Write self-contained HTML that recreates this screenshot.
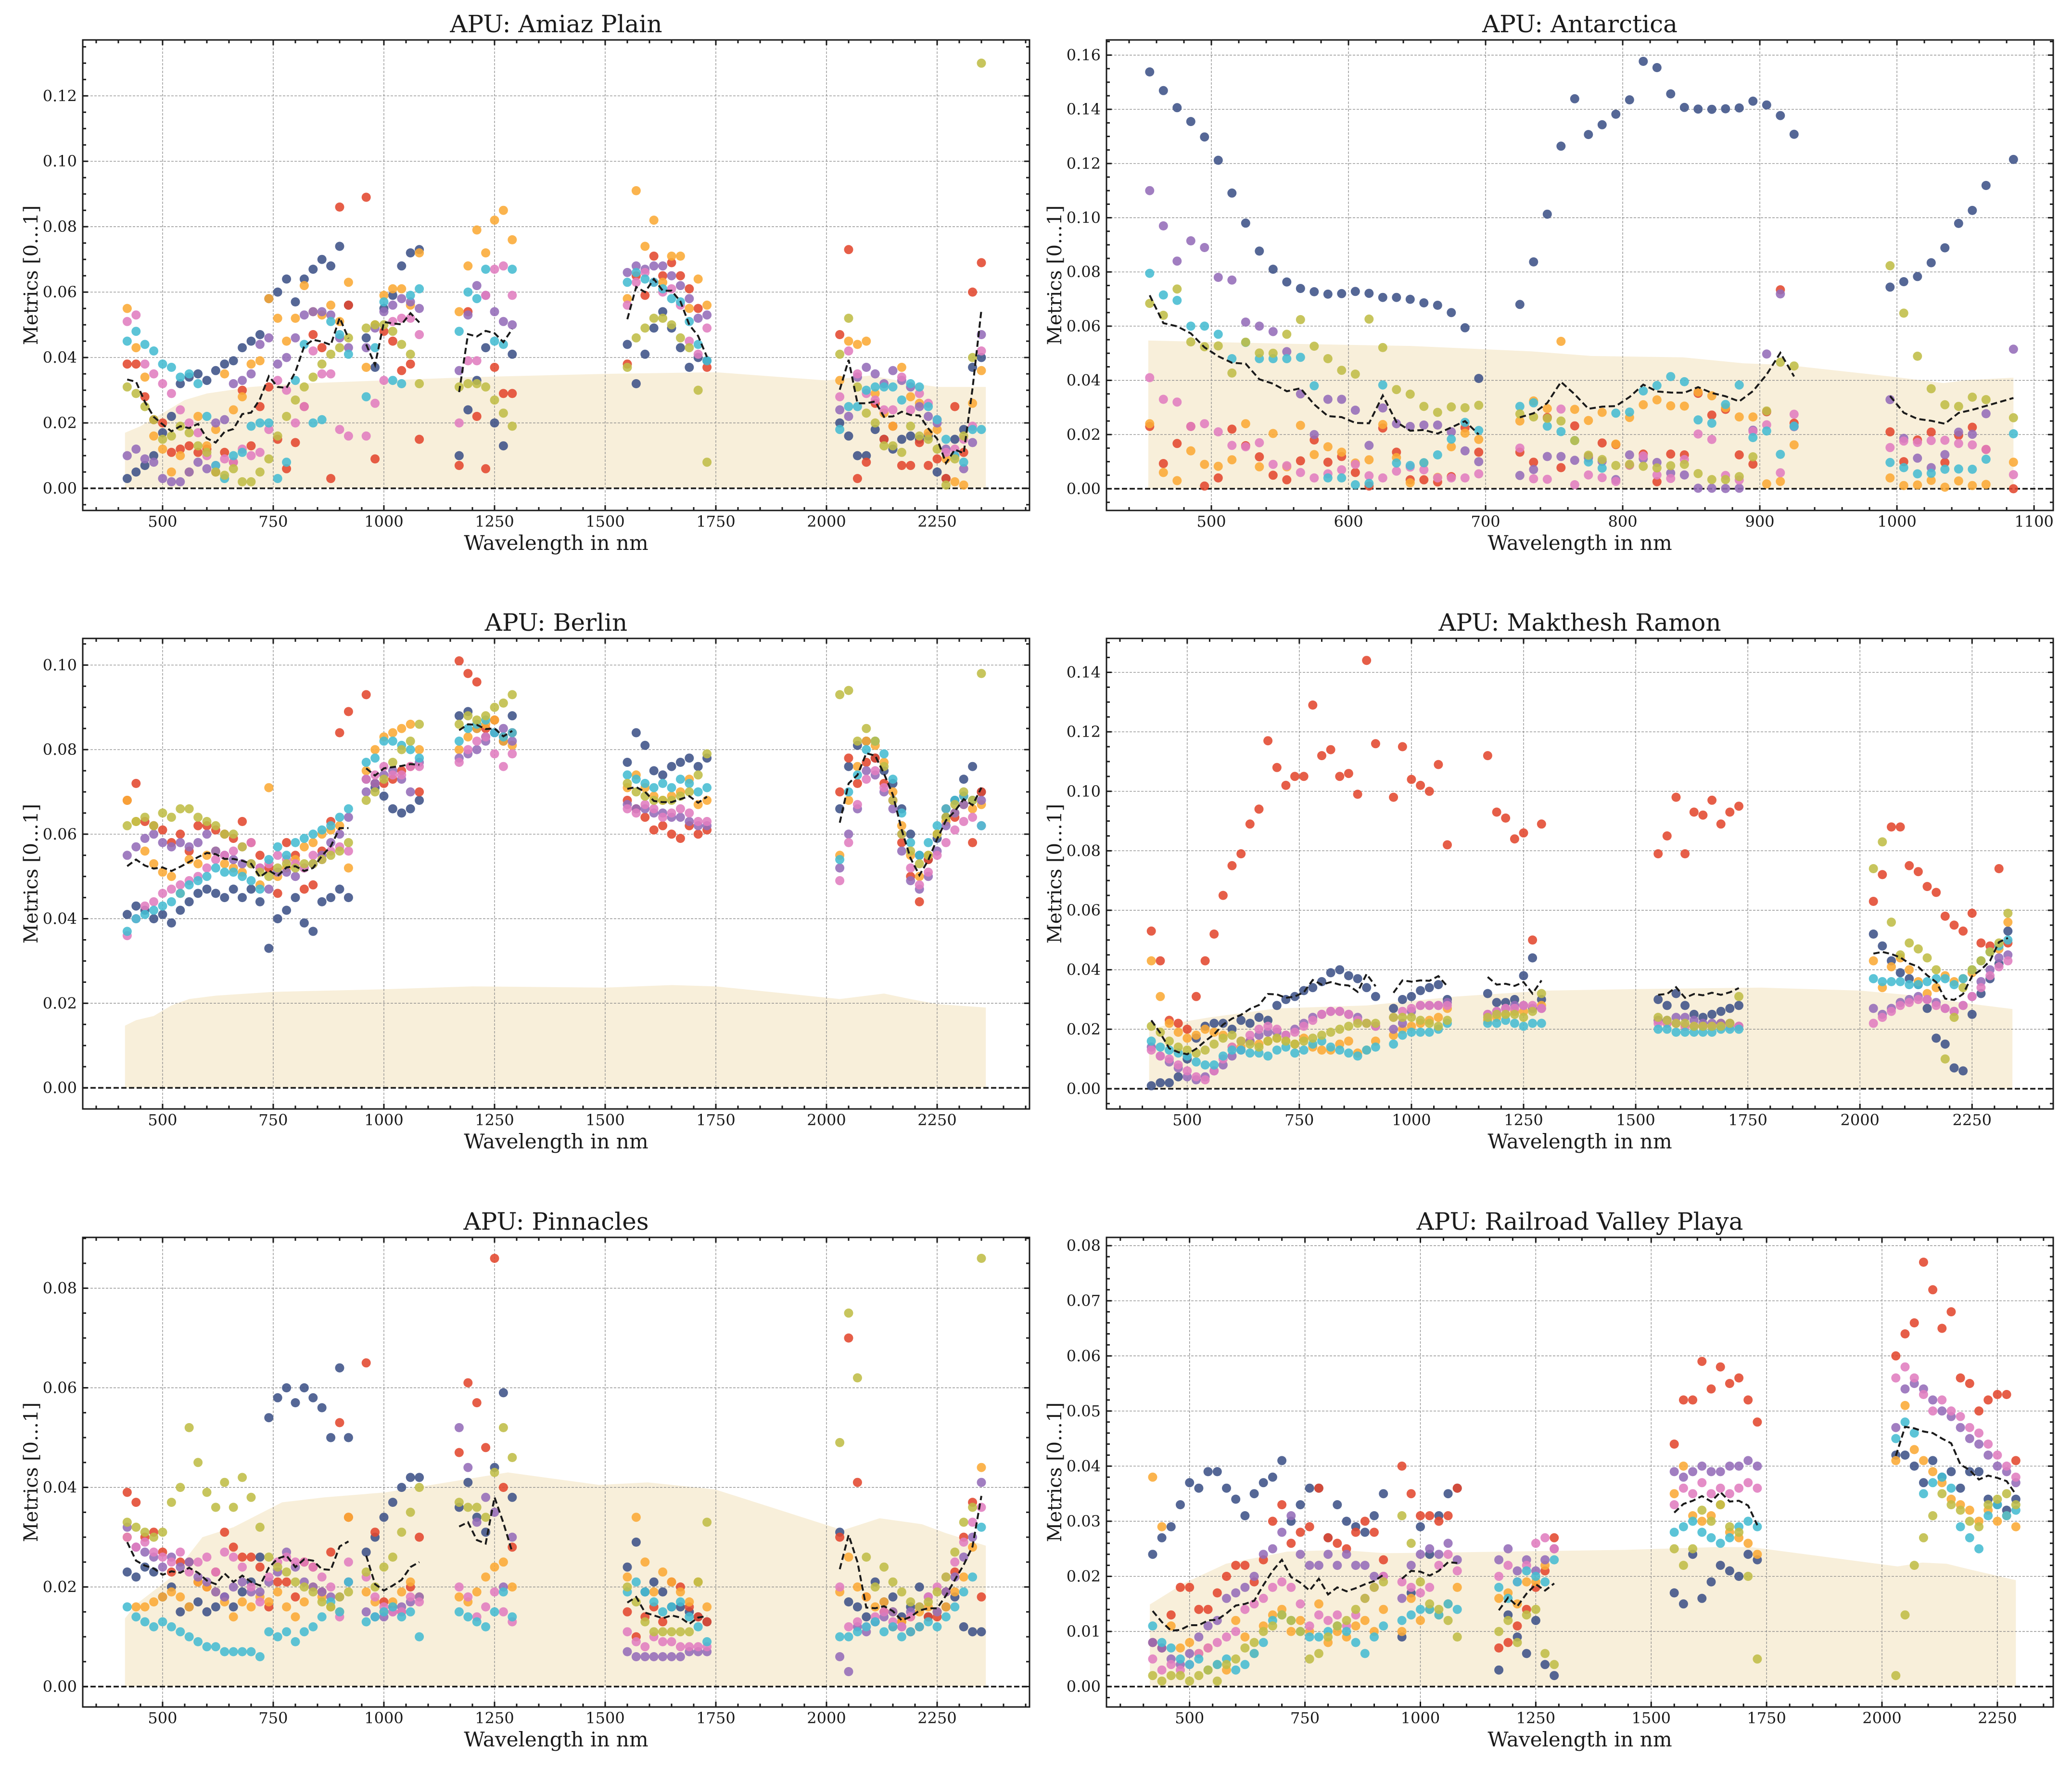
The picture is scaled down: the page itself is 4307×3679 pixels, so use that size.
<!DOCTYPE html>
<html><head><meta charset="utf-8"><title>APU metrics</title>
<style>
html,body{margin:0;padding:0;background:#fff;}
svg{display:block;}
text{font-family:"DejaVu Serif","Liberation Serif",serif;fill:#1a1a1a;}
</style></head>
<body>
<svg id="chart" xmlns="http://www.w3.org/2000/svg" width="4307" height="3679" viewBox="0 0 4307 3679"></svg>
<script>
// ---------------- DATA ----------------
const seriesColors = ['#3d5288','#e2482f','#fbaa35','#946cb8','#e07dbf','#45bcd2','#bfbd47'];
const seriesNames = ['navy','red','orange','purple','pink','cyan','olive'];
const stdXTicks = [500,750,1000,1250,1500,1750,2000,2250];
const antXTicks = [500,600,700,800,900,1000,1100];

// Amiaz Plain
const amiazWl = [420,440,460,480,500,520,540,560,580,600,620,640,660,680,700,720,740,760,780,800,820,840,860,880,900,920, 960,980,1000,1020,1040,1060,1080, 1170,1190,1210,1230,1250,1270,1290, 1550,1570,1590,1610,1630,1650,1670,1690,1710,1730, 2030,2050,2070,2090,2110,2130,2150,2170,2190,2210,2230,2250,2270,2290,2310,2330,2350];
const amiazNavy = [.003,.005,.007,.010,.017,.022,.032,.034,.035,.033,.036,.038,.039,.043,.045,.047,.058,.060,.064,.057,.064,.067,.070,.068,.074,.056, .046,.037,.055,.059,.068,.072,.073, .010,.024,.033,.043,.020,.013,.041, .044,.032,.041,.049,.054,.049,.043,.037,.040,.039, .020,.016,.010,.010,.018,.015,.012,.015,.016,.015,.016,.005,.003,.015,.018,.037,.040];
const amiazRed = [.038,.038,.028,.021,.020,.011,.012,.013,.011,.012,.005,.011,.008,.030,.013,.025,.031,.015,.006,.014,.025,.047,.043,.003,.086,.056, .089,.009,.048,.045,.036,.038,.015, .007,.054,.022,.006,.037,.029,.029, .038,.065,.059,.071,.065,.069,.065,.061,.055,.037, .047,.073,.003,.008,.026,.015,.019,.007,.007,.014,.007,.009,.003,.025,.011,.060,.069];
const amiazOrange = [.055,.043,.034,.016,.012,.005,.010,.005,.022,.013,.018,.035,.024,.028,.038,.039,.058,.052,.045,.052,.062,.054,.053,.056,.051,.063, .037,.050,.059,.061,.061,.056,.072, .054,.068,.079,.072,.082,.085,.076, .058,.091,.074,.082,.063,.071,.071,.055,.064,.056, .033,.045,.044,.045,.029,.023,.019,.037,.028,.026,.017,.018,.009,.002,.001,.026,.036];
const amiazPurple = [.010,.012,.009,.008,.003,.002,.002,.005,.008,.006,.020,.021,.032,.033,.035,.044,.046,.038,.040,.046,.053,.054,.054,.053,.046,.043, .043,.049,.054,.056,.058,.057,.055, .036,.053,.062,.059,.054,.051,.050, .066,.068,.067,.068,.068,.065,.062,.058,.052,.053, .024,.022,.034,.037,.035,.032,.036,.033,.031,.025,.022,.020,.012,.010,.006,.014,.047];
const amiazPink = [.051,.053,.038,.035,.032,.029,.024,.020,.017,.010,.007,.009,.008,.012,.010,.011,.018,.033,.030,.020,.025,.042,.035,.035,.018,.016, .016,.026,.033,.051,.052,.052,.047, .020,.039,.039,.059,.067,.068,.059, .056,.063,.066,.063,.060,.061,.056,.045,.041,.049, .028,.042,.035,.029,.027,.024,.024,.034,.024,.029,.026,.021,.011,.012,.015,.019,.042];
const amiazCyan = [.045,.048,.044,.042,.038,.037,.034,.035,.032,.022,.007,.003,.010,.011,.019,.020,.020,.003,.008,.033,.044,.020,.021,.051,.047,.041, .028,.043,.057,.033,.032,.059,.061, .048,.060,.058,.067,.045,.044,.067, .063,.066,.064,.063,.061,.058,.057,.051,.044,.039, .018,.025,.025,.030,.031,.031,.031,.027,.032,.031,.025,.021,.015,.010,.008,.018,.018];
const amiazOlive = [.031,.029,.025,.021,.015,.016,.019,.017,.013,.011,.005,.004,.006,.002,.002,.005,.009,.016,.022,.027,.031,.034,.038,.041,.043,.046, .049,.050,.050,.048,.044,.041,.032, .031,.032,.032,.031,.027,.023,.019, .037,.046,.049,.052,.052,.050,.046,.043,.030,.008, .041,.052,.031,.023,.020,.013,.013,.011,.019,.016,.015,.012,.001,.009,.016,.040,.130];
const amiazFillWl = [415,450,500,550,600,700,800,1000,1200,1500,1750,2000,2100,2200,2250,2360];
const amiazFillTop = [.017,.019,.023,.027,.029,.031,.032,.033,.034,.035,.0355,.033,.0345,.032,.031,.031];
const amiazYTicks = [0,.02,.04,.06,.08,.10,.12];

// Antarctica
const antWl = [455,465,475,485,495,505,515,525,535,545,555,565,575,585,595,605,615,625,635,645,655,665,675,685,695, 725,735,745,755,765,775,785,795,805,815,825,835,845,855,865,875,885,895,905,915,925, 995,1005,1015,1025,1035,1045,1055,1065,1085];
const antNavy = [.1538,.1469,.1406,.1355,.1298,.1212,.1091,.0980,.0877,.0810,.0763,.0739,.0727,.0718,.0720,.0728,.0721,.0706,.0706,.0699,.0686,.0677,.0650,.0594,.0407, .0680,.0837,.1013,.1264,.1439,.1307,.1343,.1382,.1435,.1577,.1554,.1457,.1407,.1401,.1400,.1402,.1405,.1430,.1416,.1377,.1308, .0744,.0764,.0783,.0834,.0889,.0979,.1027,.1119,.1215];
const antRed = [.023,.0093,.0167,.023,.001,.004,.022,.0159,.0118,.005,.0033,.0103,.018,.0098,.0119,.006,.001,.0224,.0135,.0033,.0033,.0025,.0045,.0225,.0135, .0135,.0098,.0263,.0078,.0232,.0119,.0169,.0163,.0087,.0128,.0026,.0128,.0125,.0352,.0272,.0293,.0125,.0091,.0284,.0734,.0242, .021,.010,.018,.0209,.0097,.0197,.0227,.0145,.0];
const antOrange = [.024,.006,.003,.014,.009,.0083,.0107,.024,.0081,.0204,.0081,.0234,.0126,.0155,.0135,.0095,.0107,.0237,.0115,.0022,.0095,.0042,.0155,.0205,.0182, .025,.0324,.0296,.0544,.0293,.0252,.0282,.0165,.0263,.031,.0328,.0306,.0305,.0357,.0343,.0299,.0265,.0265,.0018,.0027,.0162, .004,.0012,.0014,.0031,.0006,.0029,.0012,.0016,.0098];
const antPurple = [.110,.097,.084,.0915,.089,.078,.077,.0615,.060,.058,.0506,.035,.020,.033,.033,.029,.016,.0298,.024,.023,.0235,.0235,.021,.014,.010, .0049,.0071,.0119,.0119,.0105,.0114,.0101,.0034,.0125,.0111,.0097,.0058,.0051,.0002,.0002,.0001,.0002,.0216,.0497,.0719,.0229, .0329,.0186,.0113,.0078,.0126,.0209,.0201,.0277,.0515];
const antPink = [.041,.033,.032,.023,.024,.021,.016,.0155,.017,.009,.0085,.006,.004,.0055,.007,.009,.0048,.004,.0065,.008,.007,.004,.004,.004,.0055, .015,.0037,.0035,.0294,.0015,.0051,.0041,.0027,.0087,.0121,.0051,.0038,.0108,.0202,.0182,.0049,.0032,.0212,.0236,.0059,.0275, .0152,.0176,.0171,.0178,.0179,.0167,.0162,.0145,.0052];
const antCyan = [.0795,.0715,.0695,.060,.060,.057,.048,.054,.048,.048,.048,.0485,.038,.004,.004,.0015,.002,.0383,.0095,.0086,.0096,.0125,.0183,.0245,.0215, .0304,.0317,.0231,.0211,.0178,.0099,.0076,.0279,.0283,.0361,.0381,.0414,.0395,.0254,.0242,.0311,.0383,.0189,.0213,.0127,.0231, .0097,.0078,.0055,.0057,.0072,.0073,.0072,.0109,.0203];
const antOlive = [.0684,.064,.0737,.0542,.0524,.0527,.0427,.0541,.0501,.050,.057,.0624,.0526,.048,.0437,.0423,.0626,.0521,.0366,.0349,.0304,.0282,.0302,.0299,.0308, .0276,.0265,.026,.025,.0178,.0124,.0108,.0086,.009,.0083,.0077,.0085,.009,.0056,.0034,.0034,.0045,.0118,.0287,.0467,.0453, .0823,.0648,.0489,.0369,.031,.0304,.0338,.0329,.0262];
const antFillWl = [454,556,645,733,777,844,888,919,999,1034,1052,1085];
const antFillTop = [.0547,.0535,.0527,.0507,.049,.0485,.0463,.0457,.0412,.039,.0401,.041];
const antYTicks = [0,.02,.04,.06,.08,.10,.12,.14,.16];

// Berlin
const berlinWl = amiazWl.slice();
const berlinNavy = [.041,.043,.042,.040,.041,.039,.042,.044,.046,.047,.046,.045,.047,.045,.047,.044,.033,.040,.042,.045,.039,.037,.044,.045,.047,.045, .073,.071,.069,.066,.065,.066,.068, .088,.089,.085,.083,.084,.082,.088, .077,.084,.081,.075,.074,.076,.077,.078,.076,.078, .066,.076,.081,.082,.078,.075,.072,.066,.060,.055,.054,.059,.064,.068,.073,.076,.070];
const berlinRed = [.068,.072,.063,.062,.061,.058,.060,.056,.062,.062,.061,.060,.059,.063,.058,.055,.052,.046,.058,.055,.047,.048,.056,.063,.084,.089, .093,.072,.072,.073,.075,.076,.070, .101,.098,.096,.085,.087,.083,.084, .068,.066,.064,.061,.062,.060,.059,.062,.060,.061, .070,.078,.072,.077,.078,.072,.068,.058,.050,.044,.054,.060,.066,.064,.069,.058,.070];
const berlinOrange = [.068,.063,.056,.053,.051,.050,.046,.054,.053,.055,.056,.053,.052,.051,.053,.048,.071,.050,.052,.054,.057,.058,.060,.061,.062,.052, .075,.080,.083,.084,.085,.086,.080, .080,.083,.085,.086,.087,.082,.081, .071,.074,.071,.069,.068,.069,.070,.073,.067,.068, .055,.068,.076,.082,.081,.077,.070,.062,.055,.050,.055,.060,.063,.065,.067,.066,.067];
const berlinPurple = [.055,.057,.059,.060,.058,.057,.058,.057,.058,.060,.056,.055,.054,.053,.053,.052,.047,.051,.051,.050,.052,.053,.055,.058,.060,.064, .070,.072,.074,.075,.073,.070,.077, .078,.079,.080,.082,.084,.085,.082, .067,.066,.066,.065,.065,.064,.064,.063,.062,.062, .052,.060,.066,.075,.074,.070,.066,.056,.049,.047,.050,.056,.062,.065,.067,.068,.068];
const berlinPink = [.036,.040,.043,.044,.046,.047,.048,.049,.050,.052,.054,.055,.056,.057,.058,.052,.053,.055,.054,.053,.052,.055,.054,.056,.057,.056, .073,.074,.076,.074,.074,.076,.076, .077,.080,.082,.083,.079,.076,.079, .066,.065,.067,.066,.064,.065,.066,.065,.063,.063, .049,.058,.067,.073,.075,.071,.068,.060,.052,.048,.051,.055,.058,.061,.063,.064,.062];
const berlinCyan = [.037,.040,.041,.042,.043,.044,.046,.048,.049,.050,.052,.051,.051,.050,.049,.047,.054,.057,.055,.058,.059,.060,.061,.062,.064,.066, .077,.078,.082,.082,.081,.080,.078, .082,.085,.086,.087,.084,.083,.084, .074,.073,.072,.071,.072,.071,.073,.072,.070,.071, .054,.070,.074,.080,.082,.079,.073,.065,.058,.055,.058,.062,.066,.068,.069,.068,.062];
const berlinOlive = [.062,.063,.064,.062,.065,.064,.066,.066,.064,.063,.062,.060,.060,.057,.053,.051,.050,.052,.053,.052,.053,.053,.054,.055,.056,.058, .068,.070,.073,.077,.080,.082,.086, .086,.088,.087,.088,.090,.091,.093, .072,.070,.069,.068,.068,.068,.069,.070,.074,.079, .093,.094,.082,.085,.082,.076,.068,.060,.056,.053,.055,.060,.064,.067,.070,.068,.098];
const berlinFillWl = [415,440,480,520,560,620,750,1000,1200,1500,1650,1750,2030,2130,2180,2250,2360];
const berlinFillTop = [.0147,.016,.017,.0195,.021,.0218,.0227,.0233,.024,.0237,.0243,.024,.021,.0223,.0212,.0198,.019];
const berlinYTicks = [0,.02,.04,.06,.08,.10];

// Makhtesh Ramon
const ramonWl = [420,440,460,480,500,520,540,560,580,600,620,640,660,680,700,720,740,760,780,800,820,840,860,880,900,920, 960,980,1000,1020,1040,1060,1080, 1170,1190,1210,1230,1250,1270,1290, 1550,1570,1590,1610,1630,1650,1670,1690,1710,1730, 2030,2050,2070,2090,2110,2130,2150,2170,2190,2210,2230,2250,2270,2290,2310,2330];
const ramonNavy = [.001,.002,.002,.004,.010,.017,.021,.022,.022,.020,.023,.022,.024,.023,.028,.030,.031,.033,.034,.036,.039,.040,.038,.037,.034,.031, .027,.030,.031,.033,.034,.035,.030, .032,.029,.029,.030,.038,.044,.030, .030,.028,.032,.028,.025,.024,.025,.026,.027,.028, .052,.048,.043,.039,.037,.035,.027,.017,.015,.007,.006,.025,.032,.037,.042,.053];
const ramonRed = [.053,.043,.023,.022,.020,.031,.043,.052,.065,.075,.079,.089,.094,.117,.108,.102,.105,.105,.129,.112,.114,.105,.106,.099,.144,.116, .098,.115,.104,.102,.100,.109,.082, .112,.093,.091,.084,.086,.050,.089, .079,.085,.098,.079,.093,.092,.097,.089,.093,.095, .063,.072,.088,.088,.075,.073,.068,.066,.058,.055,.053,.059,.049,.048,.074,.049];
const ramonOrange = [.043,.031,.022,.019,.017,.018,.020,.019,.018,.014,.014,.016,.015,.016,.017,.016,.015,.017,.014,.013,.013,.015,.016,.012,.013,.016, .018,.020,.021,.022,.023,.024,.027, .023,.024,.025,.026,.026,.027,.028, .023,.022,.022,.021,.021,.021,.021,.022,.022,.021, .043,.034,.041,.044,.040,.036,.032,.034,.038,.036,.037,.039,.043,.046,.047,.056];
const ramonPurple = [.014,.011,.009,.007,.004,.003,.004,.006,.008,.011,.013,.016,.018,.019,.019,.018,.020,.022,.024,.025,.026,.026,.025,.024,.022,.021, .020,.022,.026,.028,.028,.028,.029, .025,.026,.027,.028,.028,.027,.027, .023,.023,.024,.024,.023,.022,.022,.022,.022,.021, .027,.025,.027,.029,.030,.031,.030,.029,.027,.026,.028,.031,.036,.040,.044,.045];
const ramonPink = [.013,.011,.010,.008,.006,.004,.003,.006,.010,.014,.016,.018,.020,.021,.020,.018,.019,.021,.023,.025,.026,.026,.025,.023,.022,.021, .024,.026,.027,.028,.028,.028,.028, .025,.026,.027,.027,.028,.028,.027, .022,.022,.022,.021,.021,.021,.021,.021,.021,.021, .022,.024,.026,.028,.029,.030,.030,.028,.027,.026,.028,.031,.034,.038,.041,.043];
const ramonCyan = [.016,.014,.013,.012,.011,.009,.008,.008,.011,.013,.013,.012,.012,.011,.013,.014,.012,.013,.015,.016,.014,.013,.012,.011,.013,.014, .015,.018,.019,.019,.019,.020,.022, .022,.022,.023,.022,.021,.022,.022, .020,.020,.019,.019,.019,.019,.019,.020,.020,.020, .037,.036,.036,.036,.035,.035,.036,.037,.037,.035,.037,.040,.043,.046,.048,.050];
const ramonOlive = [.021,.019,.016,.014,.013,.012,.013,.015,.017,.018,.016,.015,.014,.016,.017,.016,.015,.016,.017,.018,.019,.020,.021,.022,.022,.022, .024,.024,.024,.023,.022,.021,.023, .024,.025,.025,.025,.024,.026,.032, .024,.023,.022,.022,.021,.021,.021,.021,.022,.031, .074,.083,.056,.045,.049,.047,.044,.040,.010,.024,.034,.040,.043,.046,.049,.059];
const ramonFillWl = [415,470,550,700,900,1100,1300,1500,1780,2000,2110,2250,2340];
const ramonFillTop = [.020,.022,.024,.027,.028,.031,.033,.0335,.034,.033,.0315,.0285,.0268];
const ramonYTicks = [0,.02,.04,.06,.08,.10,.12,.14];

// Pinnacles
const pinnWl = amiazWl.slice();
const pinnNavy = [.023,.022,.024,.023,.018,.020,.015,.016,.017,.015,.016,.018,.016,.019,.021,.026,.054,.058,.060,.057,.060,.058,.056,.050,.064,.050, .027,.030,.034,.037,.040,.042,.042, .036,.041,.034,.031,.044,.059,.038, .024,.029,.019,.021,.019,.016,.016,.015,.014,.013, .031,.017,.016,.014,.021,.017,.018,.014,.016,.020,.014,.015,.016,.018,.012,.011,.011];
const pinnRed = [.039,.037,.030,.031,.027,.023,.025,.025,.021,.020,.023,.031,.028,.026,.026,.024,.016,.021,.021,.018,.025,.024,.019,.027,.053,.034, .065,.031,.017,.016,.015,.020,.030, .047,.061,.057,.048,.086,.040,.028, .015,.010,.014,.016,.013,.021,.020,.016,.014,.013, .030,.070,.041,.018,.013,.015,.012,.013,.011,.012,.014,.014,.019,.023,.030,.037,.018];
const pinnOrange = [.030,.016,.016,.017,.018,.019,.018,.016,.021,.020,.019,.017,.014,.017,.016,.018,.017,.019,.016,.014,.017,.020,.018,.016,.015,.034, .019,.017,.015,.017,.019,.021,.018, .018,.017,.019,.022,.024,.025,.020, .022,.034,.025,.019,.023,.021,.019,.017,.021,.016, .019,.026,.020,.018,.016,.017,.015,.013,.014,.015,.016,.015,.016,.019,.022,.028,.044];
const pinnPurple = [.032,.028,.027,.026,.024,.026,.024,.025,.022,.021,.019,.018,.020,.021,.019,.019,.021,.023,.027,.024,.021,.020,.019,.018,.018,.021, .015,.014,.014,.015,.016,.017,.018, .052,.044,.033,.038,.035,.020,.030, .007,.006,.006,.006,.006,.006,.006,.007,.007,.007, .006,.003,.012,.011,.013,.014,.015,.012,.015,.016,.018,.015,.019,.022,.026,.030,.041];
const pinnPink = [.030,.028,.029,.027,.026,.025,.027,.023,.025,.026,.023,.027,.026,.024,.020,.017,.022,.025,.026,.025,.025,.024,.022,.020,.014,.025, .022,.018,.016,.015,.015,.018,.017, .020,.018,.014,.016,.019,.015,.013, .011,.009,.008,.010,.009,.009,.008,.008,.008,.008, .020,.012,.013,.012,.014,.015,.013,.012,.014,.016,.018,.020,.022,.025,.029,.033,.036];
const pinnCyan = [.016,.014,.013,.012,.013,.012,.011,.010,.009,.008,.008,.007,.007,.007,.007,.006,.011,.010,.011,.009,.011,.012,.014,.017,.015,.021, .013,.014,.015,.016,.014,.015,.010, .015,.014,.013,.012,.015,.019,.014, .019,.021,.019,.017,.015,.016,.017,.014,.012,.009, .010,.010,.011,.012,.013,.011,.012,.010,.011,.012,.013,.012,.014,.016,.019,.022,.032];
const pinnOlive = [.033,.032,.031,.030,.031,.037,.040,.052,.045,.039,.036,.041,.036,.042,.038,.032,.026,.024,.023,.021,.020,.019,.017,.016,.018,.019, .023,.020,.024,.026,.031,.035,.040, .037,.036,.036,.034,.043,.052,.046, .020,.017,.013,.011,.011,.011,.011,.011,.021,.033, .049,.075,.062,.026,.020,.024,.021,.019,.017,.016,.017,.019,.022,.027,.033,.036,.086];
const pinnFillWl = [415,440,520,590,660,770,866,1004,1073,1280,1486,1596,1748,2037,2120,2216,2270,2360];
const pinnFillTop = [.0137,.0165,.022,.030,.032,.037,.038,.039,.040,.043,.0405,.041,.0396,.0314,.0338,.0326,.0308,.0283];
const pinnYTicks = [0,.02,.04,.06,.08];

// Railroad Valley Playa
const rrvWl = [420,440,460,480,500,520,540,560,580,600,620,640,660,680,700,720,740,760,780,800,820,840,860,880,900,920, 960,980,1000,1020,1040,1060,1080, 1170,1190,1210,1230,1250,1270,1290, 1550,1570,1590,1610,1630,1650,1670,1690,1710,1730, 2030,2050,2070,2090,2110,2130,2150,2170,2190,2210,2230,2250,2270,2290];
const rrvNavy = [.024,.027,.029,.033,.037,.036,.039,.039,.036,.034,.031,.035,.037,.038,.041,.030,.033,.036,.036,.027,.033,.030,.029,.028,.031,.035, .009,.017,.029,.024,.031,.035,.036, .003,.013,.009,.006,.012,.004,.002, .017,.015,.024,.016,.019,.022,.021,.020,.024,.023, .042,.042,.040,.037,.041,.038,.039,.036,.039,.039,.034,.033,.032,.034];
const rrvRed = [.008,.007,.013,.018,.018,.014,.014,.017,.020,.022,.022,.019,.023,.030,.033,.026,.028,.029,.036,.027,.026,.025,.028,.030,.028,.023, .040,.035,.031,.031,.030,.031,.036, .007,.008,.011,.014,.018,.021,.027, .044,.052,.052,.059,.054,.058,.055,.056,.052,.048, .060,.064,.066,.077,.072,.065,.068,.056,.055,.050,.052,.053,.053,.041];
const rrvOrange = [.038,.029,.011,.007,.008,.006,.007,.004,.003,.012,.009,.006,.011,.013,.014,.010,.012,.010,.015,.008,.010,.009,.011,.012,.010,.014, .010,.016,.012,.014,.013,.015,.018, .016,.017,.015,.019,.019,.022,.025, .035,.040,.031,.030,.031,.033,.028,.027,.026,.024, .041,.051,.043,.041,.039,.037,.034,.033,.032,.030,.032,.030,.031,.029];
const rrvPurple = [.008,.007,.005,.004,.006,.009,.011,.012,.016,.017,.018,.020,.024,.025,.028,.031,.024,.022,.022,.024,.022,.024,.022,.022,.020,.020, .016,.022,.024,.025,.024,.026,.023, .023,.025,.021,.023,.021,.023,.025, .039,.038,.039,.040,.039,.039,.040,.040,.041,.040, .047,.054,.055,.054,.052,.050,.049,.047,.045,.044,.042,.040,.039,.037];
const rrvPink = [.005,.003,.004,.003,.004,.006,.007,.008,.009,.010,.014,.015,.016,.018,.019,.018,.015,.011,.013,.012,.013,.011,.013,.016,.018,.020, .019,.018,.017,.018,.022,.024,.021, .020,.022,.019,.022,.026,.027,.025, .033,.036,.035,.037,.035,.036,.035,.036,.037,.036, .056,.058,.056,.053,.050,.052,.050,.049,.047,.046,.044,.042,.040,.038];
const rrvCyan = [.011,.008,.007,.005,.004,.005,.003,.004,.005,.003,.004,.006,.008,.012,.013,.012,.010,.009,.009,.010,.011,.010,.008,.006,.009,.011, .012,.013,.014,.014,.013,.015,.014, .018,.016,.019,.021,.020,.019,.023, .028,.029,.030,.028,.027,.026,.027,.029,.030,.029, .045,.048,.046,.035,.037,.038,.036,.029,.027,.025,.031,.033,.031,.032];
const rrvOlive = [.002,.001,.002,.002,.001,.002,.003,.001,.004,.005,.007,.008,.010,.011,.013,.012,.010,.005,.006,.009,.011,.012,.014,.016,.018,.019, .031,.026,.019,.015,.014,.012,.009, .010,.012,.008,.013,.014,.006,.004, .025,.022,.025,.032,.030,.033,.029,.028,.020,.005, .002,.013,.022,.027,.031,.035,.033,.032,.030,.029,.033,.034,.035,.033];
const rrvFillWl = [414,487,579,712,824,923,1108,1439,1638,1717,2034,2087,2140,2193,2290];
const rrvFillTop = [.0149,.0187,.0223,.0245,.0248,.0242,.0244,.0248,.0253,.0253,.0218,.0225,.0223,.0212,.0193];
const rrvYTicks = [0,.01,.02,.03,.04,.05,.06,.07,.08];

// ---------------- LAYOUT ----------------
const panels = [
  {key:'amiaz-plain', title:'APU: Amiaz Plain', left:172, top:83, w:1968, h:978, xmin:319.6, xmax:2458.7, ymin:-0.00676, ymax:0.1371, xTicks:stdXTicks, xMinor:50, yTicks:amiazYTicks, yMinor:0.005,
   wl:amiazWl, series:[amiazNavy,amiazRed,amiazOrange,amiazPurple,amiazPink,amiazCyan,amiazOlive], fillWl:amiazFillWl, fillTop:amiazFillTop},
  {key:'antarctica', title:'APU: Antarctica', left:2300, top:83, w:1968, h:978, xmin:423.5, xmax:1114, ymin:-0.008, ymax:0.1656, xTicks:antXTicks, xMinor:20, yTicks:antYTicks, yMinor:0.005,
   wl:antWl, series:[antNavy,antRed,antOrange,antPurple,antPink,antCyan,antOlive], fillWl:antFillWl, fillTop:antFillTop},
  {key:'berlin', title:'APU: Berlin', left:172, top:1327, w:1968, h:978, xmin:319.6, xmax:2458.7, ymin:-0.005, ymax:0.1063, xTicks:stdXTicks, xMinor:50, yTicks:berlinYTicks, yMinor:0.005,
   wl:berlinWl, series:[berlinNavy,berlinRed,berlinOrange,berlinPurple,berlinPink,berlinCyan,berlinOlive], fillWl:berlinFillWl, fillTop:berlinFillTop},
  {key:'makhtesh-ramon', title:'APU: Makthesh Ramon', left:2300, top:1327, w:1968, h:978, xmin:320, xmax:2431, ymin:-0.0068, ymax:0.1514, xTicks:stdXTicks, xMinor:50, yTicks:ramonYTicks, yMinor:0.005,
   wl:ramonWl, series:[ramonNavy,ramonRed,ramonOrange,ramonPurple,ramonPink,ramonCyan,ramonOlive], fillWl:ramonFillWl, fillTop:ramonFillTop},
  {key:'pinnacles', title:'APU: Pinnacles', left:172, top:2572, w:1968, h:976, xmin:319.6, xmax:2458.7, ymin:-0.0041, ymax:0.0902, xTicks:stdXTicks, xMinor:50, yTicks:pinnYTicks, yMinor:0.005,
   wl:pinnWl, series:[pinnNavy,pinnRed,pinnOrange,pinnPurple,pinnPink,pinnCyan,pinnOlive], fillWl:pinnFillWl, fillTop:pinnFillTop},
  {key:'railroad-valley-playa', title:'APU: Railroad Valley Playa', left:2300, top:2572, w:1968, h:976, xmin:320, xmax:2371, ymin:-0.0037, ymax:0.0815, xTicks:stdXTicks, xMinor:50, yTicks:rrvYTicks, yMinor:0.002,
   wl:rrvWl, series:[rrvNavy,rrvRed,rrvOrange,rrvPurple,rrvPink,rrvCyan,rrvOlive], fillWl:rrvFillWl, fillTop:rrvFillTop}
];

// ---------------- RENDER ----------------
const NS = 'http://www.w3.org/2000/svg';
const root = document.getElementById('chart');
function mk(tag, attrs, parent, name, inter) {
  const e = document.createElementNS(NS, tag);
  for (const k in attrs) e.setAttribute(k, attrs[k]);
  
  
  parent.appendChild(e);
  return e;
}
const defs = mk('defs', {}, root, 'defs', false);

panels.forEach((p, pi) => {
  const sx = v => p.left + (v - p.xmin) / (p.xmax - p.xmin) * p.w;
  const sy = v => p.top + p.h - (v - p.ymin) / (p.ymax - p.ymin) * p.h;
  const bottom = p.top + p.h, right = p.left + p.w;
  const g = mk('g', {}, root, 'panel-' + p.key, false);

  const cp = mk('clipPath', {id: 'clip' + pi}, defs, 'clip-' + p.key, false);
  mk('rect', {x: p.left, y: p.top, width: p.w, height: p.h}, cp, 'clip-rect', false);

  const plot = mk('g', {'clip-path': 'url(#clip' + pi + ')'}, g, 'plot-area-' + p.key, false);

  // fill band
  let d = 'M' + sx(p.fillWl[0]) + ',' + sy(0);
  for (let i = 0; i < p.fillWl.length; i++) d += 'L' + sx(p.fillWl[i]).toFixed(1) + ',' + sy(p.fillTop[i]).toFixed(1);
  d += 'L' + sx(p.fillWl[p.fillWl.length - 1]) + ',' + sy(0) + 'Z';
  mk('path', {d: d, fill: '#f8efda', stroke: 'none'}, plot, 'uncertainty-band', false);

  // grid
  p.xTicks.forEach(t => {
    mk('line', {x1: sx(t), x2: sx(t), y1: p.top, y2: bottom, stroke: '#8a8a8a', 'stroke-width': 1.3, 'stroke-dasharray': '5,3'}, plot, 'x-gridline', false);
  });
  p.yTicks.forEach(t => {
    if (t === 0) return;
    mk('line', {x1: p.left, x2: right, y1: sy(t), y2: sy(t), stroke: '#8a8a8a', 'stroke-width': 1.3, 'stroke-dasharray': '5,3'}, plot, 'y-gridline', false);
  });
  // zero line
  mk('line', {x1: p.left, x2: right, y1: sy(0), y2: sy(0), stroke: '#1a1a1a', 'stroke-width': 3.5, 'stroke-dasharray': '11,5'}, plot, 'zero-line', false);

  // scatter points
  p.series.forEach((s, si) => {
    const sg = mk('g', {fill: seriesColors[si], 'fill-opacity': 0.88}, plot, 'series-' + seriesNames[si], false);
    const n = Math.min(s.length, p.wl.length);
    for (let i = 0; i < n; i++) {
      if (s[i] === null || s[i] === undefined) continue;
      mk('circle', {cx: sx(p.wl[i]).toFixed(1), cy: sy(s[i]).toFixed(1), r: 9.5}, sg, 'point-' + seriesNames[si], false);
    }
  });

  // mean dashed line
  let md = '', prev = null;
  const n = p.wl.length;
  for (let i = 0; i < n; i++) {
    let sum = 0, cnt = 0;
    p.series.forEach(s => { if (s[i] !== null && s[i] !== undefined) { sum += s[i]; cnt++; } });
    if (!cnt) continue;
    const m = sum / cnt;
    const brk = prev === null || p.wl[i] - prev > 25;
    md += (brk ? 'M' : 'L') + sx(p.wl[i]).toFixed(1) + ',' + sy(m).toFixed(1);
    prev = p.wl[i];
  }
  mk('path', {d: md, fill: 'none', stroke: '#1a1a1a', 'stroke-width': 4, 'stroke-dasharray': '13,7'}, plot, 'mean-line', false);

  // spines
  mk('rect', {x: p.left, y: p.top, width: p.w, height: p.h, fill: 'none', stroke: '#1a1a1a', 'stroke-width': 3}, g, 'axes-frame', false);

  // ticks
  const tg = mk('g', {stroke: '#1a1a1a', 'stroke-width': 3}, g, 'ticks', false);
  const x0 = Math.ceil(p.xmin / p.xMinor) * p.xMinor;
  for (let v = x0; v <= p.xmax; v += p.xMinor) {
    const major = p.xTicks.indexOf(Math.round(v)) >= 0;
    const L = major ? 11 : 7;
    mk('line', {x1: sx(v), x2: sx(v), y1: bottom, y2: bottom - L}, tg, 'x-tick', false);
    mk('line', {x1: sx(v), x2: sx(v), y1: p.top, y2: p.top + L}, tg, 'x-tick-top', false);
  }
  const y0 = Math.ceil(p.ymin / p.yMinor - 1e-9) * p.yMinor;
  for (let v = y0; v <= p.ymax + 1e-9; v += p.yMinor) {
    const major = p.yTicks.some(t => Math.abs(t - v) < 1e-6);
    const L = major ? 11 : 7;
    mk('line', {x1: p.left, x2: p.left + L, y1: sy(v), y2: sy(v)}, tg, 'y-tick', false);
    mk('line', {x1: right, x2: right - L, y1: sy(v), y2: sy(v)}, tg, 'y-tick-right', false);
  }

  // tick labels
  p.xTicks.forEach(t => {
    const tx = mk('text', {x: sx(t), y: bottom + 34, 'font-size': 32, 'text-anchor': 'middle'}, g, 'x-tick-label', false);
    tx.textContent = String(t);
  });
  p.yTicks.forEach(t => {
    const ty = mk('text', {x: p.left - 12, y: sy(t) + 11, 'font-size': 32, 'text-anchor': 'end'}, g, 'y-tick-label', false);
    ty.textContent = t.toFixed(2);
  });

  // labels
  const xl = mk('text', {x: p.left + p.w / 2, y: bottom + 82, 'font-size': 42, 'text-anchor': 'middle'}, g, 'x-axis-title', false);
  xl.textContent = 'Wavelength in nm';
  const cy = p.top + p.h / 2, cx = p.left - 108;
  const yl = mk('text', {x: cx, y: cy, 'font-size': 40, 'text-anchor': 'middle', transform: 'rotate(-90 ' + cx + ' ' + cy + ')', dy: '0.35em'}, g, 'y-axis-title', false);
  yl.textContent = 'Metrics [0…1]';
  const tt = mk('text', {x: p.left + p.w / 2, y: p.top - 16, 'font-size': 50, 'text-anchor': 'middle'}, g, 'panel-title', false);
  tt.textContent = p.title;
});
</script>
</body></html>
